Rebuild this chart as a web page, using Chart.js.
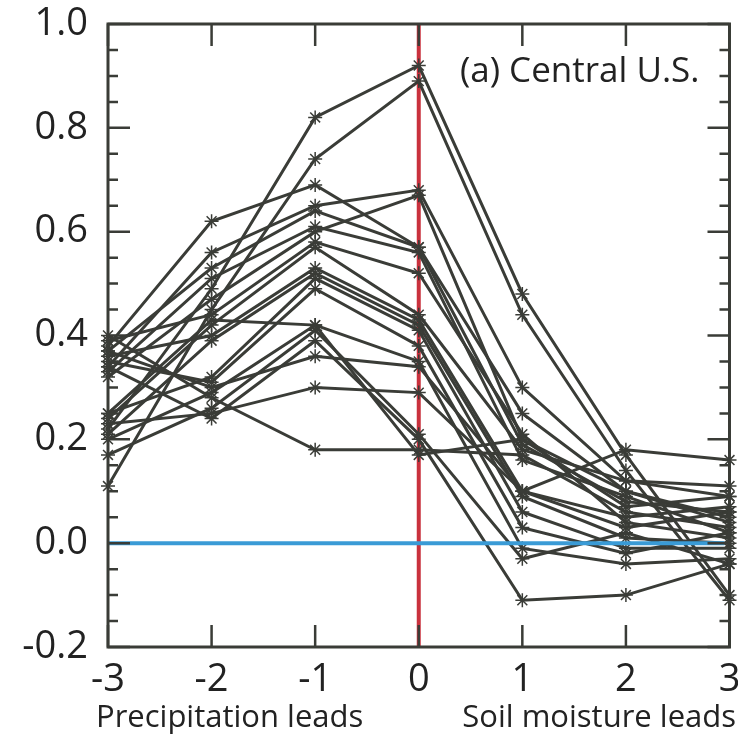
<!DOCTYPE html>
<html>
<head>
<meta charset="utf-8">
<script src="https://cdn.jsdelivr.net/npm/chart.js@4.4.1/dist/chart.umd.min.js"></script>
<style>
  html, body { margin: 0; padding: 0; background: #fff; }
  #wrap { width: 738px; height: 740px; }
</style>
</head>
<body>
<div id="wrap"><canvas id="chart" width="738" height="740"></canvas></div>
<script>
// lag (years): negative = precipitation leads, positive = soil moisture leads
const lags = [-3, -2, -1, 0, 1, 2, 3];

// correlation per station / model
const s01 = [0.22, 0.49, 0.82, 0.92, 0.48, 0.17, -0.10];
const s02 = [0.11, 0.45, 0.74, 0.89, 0.44, 0.14, -0.11];
const s03 = [0.38, 0.62, 0.69, 0.57, 0.25, 0.10, 0.05];
const s04 = [0.40, 0.28, 0.18, 0.18, 0.17, 0.06, 0.03];
const s05 = [0.23, 0.25, 0.30, 0.29, 0.10, 0.05, 0.07];
const s06 = [0.34, 0.56, 0.65, 0.68, 0.30, 0.12, 0.09];
const s07 = [0.32, 0.47, 0.60, 0.67, 0.20, 0.10, 0.04];
const s08 = [0.37, 0.53, 0.64, 0.57, 0.19, 0.08, 0.06];
const s09 = [0.33, 0.51, 0.61, 0.56, 0.16, 0.09, 0.02];
const s10 = [0.39, 0.44, 0.58, 0.52, 0.21, 0.04, 0.01];
const s11 = [0.24, 0.42, 0.57, 0.44, 0.18, 0.12, 0.11];
const s12 = [0.36, 0.40, 0.53, 0.43, 0.10, 0.03, 0.06];
const s13 = [0.21, 0.39, 0.52, 0.42, 0.09, 0.01, 0.00];
const s14 = [0.25, 0.32, 0.51, 0.41, 0.06, -0.01, -0.01];
const s15 = [0.35, 0.31, 0.49, 0.38, 0.03, -0.02, 0.02];
const s16 = [0.20, 0.29, 0.42, 0.35, -0.01, -0.04, -0.03];
const s17 = [0.17, 0.26, 0.41, 0.21, -0.03, 0.02, -0.04];
const s18 = [0.37, 0.30, 0.36, 0.34, 0.10, 0.18, 0.16];
const s19 = [0.34, 0.24, 0.39, 0.20, -0.11, -0.10, -0.04];
const s20 = [0.25, 0.43, 0.42, 0.17, 0.20, 0.07, 0.09];
const series = [s01, s02, s03, s04, s05, s06, s07, s08, s09, s10,
                s11, s12, s13, s14, s15, s16, s17, s18, s19, s20];

const yTicks = [-0.2, 0, 0.2, 0.4, 0.6, 0.8, 1.0];
const panelLabel = '(a) Central U.S.';
const leftNote = 'Precipitation leads';
const rightNote = 'Soil moisture leads';

const INK = '#3a3c37';
const FONT = '"Open Sans", sans-serif';

const datasets = [];

// red line at lag 0
datasets.push({
  data: [{ x: 0, y: -0.2 }, { x: 0, y: 1.0 }],
  borderColor: '#c9313d', borderWidth: 4, pointRadius: 0,
  showLine: true, order: 30, clip: false
});

series.forEach(s => {
  datasets.push({
    data: s.map((v, i) => ({ x: lags[i], y: v })),
    borderColor: INK, backgroundColor: INK,
    borderWidth: 3,
    pointStyle: 'star', pointRadius: 7, pointBorderWidth: 1.5,
    pointBorderColor: INK,
    showLine: true, order: 10, clip: false
  });
});

// zero line
datasets.push({
  data: [{ x: -3, y: 0 }, { x: 2.95, y: 0 }],
  borderColor: '#3a9bd6', borderWidth: 4, pointRadius: 0,
  showLine: true, order: 1, clip: false
});

// frame, inward ticks and the text notes
const framePlugin = {
  id: 'frame',
  afterDatasetsDraw(chart) {
    const { ctx, chartArea: a, scales: { x, y } } = chart;
    ctx.save();
    ctx.strokeStyle = INK;
    ctx.lineWidth = 3;
    ctx.strokeRect(a.left, a.top, a.right - a.left, a.bottom - a.top);

    ctx.lineWidth = 2.5;
    ctx.beginPath();
    for (let v = -3; v <= 3; v++) {
      const px = x.getPixelForValue(v);
      ctx.moveTo(px, a.bottom); ctx.lineTo(px, a.bottom - 22);
      ctx.moveTo(px, a.top); ctx.lineTo(px, a.top + 22);
    }
    for (let k = 0; k <= 24; k++) {
      const v = -0.2 + k * 0.05;
      const py = y.getPixelForValue(v);
      const len = k % 4 === 0 ? 22 : 10;
      ctx.moveTo(a.left, py); ctx.lineTo(a.left + len, py);
      ctx.moveTo(a.right, py); ctx.lineTo(a.right - len, py);
    }
    ctx.stroke();

    ctx.fillStyle = '#222';
    ctx.font = '35px ' + FONT;
    ctx.textBaseline = 'middle';
    ctx.textAlign = 'right';
    ctx.fillText(panelLabel, a.right - 30, 72);

    ctx.font = '31px ' + FONT;
    ctx.textAlign = 'left';
    ctx.fillText(leftNote, 96, 718);
    ctx.textAlign = 'right';
    ctx.fillText(rightNote, 736, 718);
    ctx.restore();
  }
};

new Chart(document.getElementById('chart'), {
  type: 'scatter',
  data: { datasets },
  options: {
    responsive: false,
    animation: false,
    layout: { padding: { top: 24, right: 8, left: 0, bottom: 0 } },
    plugins: { legend: { display: false }, tooltip: { enabled: false } },
    scales: {
      x: {
        type: 'linear', min: -3, max: 3,
        afterFit: s => { s.height = 93; s.paddingLeft = 0; s.paddingRight = 0; },
        afterBuildTicks: s => { s.ticks = lags.map(v => ({ value: v })); },
        grid: { display: false, drawTicks: false },
        border: { display: false },
        ticks: { color: '#222', font: { family: FONT, size: 38 }, padding: 10 }
      },
      y: {
        type: 'linear', min: -0.2, max: 1.0,
        afterFit: s => { s.width = 108; s.paddingTop = 0; s.paddingBottom = 0; },
        afterBuildTicks: s => { s.ticks = yTicks.map(v => ({ value: v })); },
        grid: { display: false, drawTicks: false },
        border: { display: false },
        ticks: {
          color: '#222', font: { family: FONT, size: 38 }, padding: 20,
          callback: v => v.toFixed(1)
        }
      }
    }
  },
  plugins: [framePlugin]
});
</script>
</body>
</html>
